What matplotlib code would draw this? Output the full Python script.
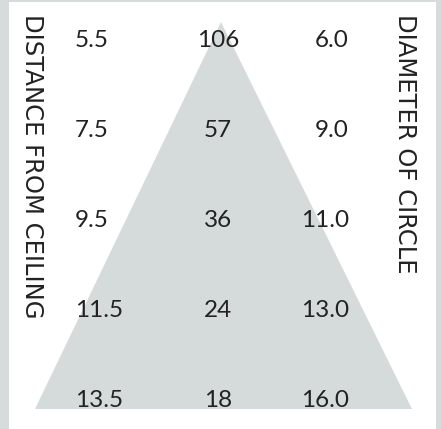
import matplotlib
matplotlib.use("Agg")
import matplotlib.pyplot as plt
from matplotlib.patches import Polygon, Rectangle

# table values, one row per distance step
distance = ["5.5", "7.5", "9.5", "11.5", "13.5"]
count = ["106", "57", "36", "24", "18"]
diameter = ["6.0", "9.0", "11.0", "13.0", "16.0"]
left_label = "DISTANCE FROM CEILING"
right_label = "DIAMETER OF CIRCLE"

frame_col = "#d6dcdc"
tri_col = "#d5dbdb"
text_col = "#222222"

plt.rcParams['font.family'] = ['Lato', 'DejaVu Sans']

fig = plt.figure(figsize=(4.41, 4.29), dpi=100, facecolor=frame_col)
ax = fig.add_axes([0, 0, 1, 1])
ax.set_xlim(0, 441)
ax.set_ylim(429, 0)
ax.axis("off")

# white panel inside the grey frame
ax.add_patch(Rectangle((9, 2), 427, 430, facecolor="white", edgecolor="none"))
# the triangle behind the numbers
ax.add_patch(Polygon([(221, 22), (35, 409), (412, 409)], closed=True,
                     facecolor=tri_col, edgecolor="none"))

for i in range(len(distance)):
    y = 47 + 90 * i
    ax.text(75, y, distance[i], ha="left", va="baseline", fontsize=17.5, color=text_col)
    ax.text(218, y, count[i], ha="center", va="baseline", fontsize=17.5, color=text_col)
    ax.text(349, y, diameter[i], ha="right", va="baseline", fontsize=17.5, color=text_col)

ax.text(31.5, 14, left_label, rotation=-90, ha="center", va="top",
        fontsize=17.5, color=text_col, family="DejaVu Sans")
ax.text(405.5, 14, right_label, rotation=-90, ha="center", va="top",
        fontsize=17.5, color=text_col, family="DejaVu Sans")

fig.savefig("out.png", dpi=100, facecolor=frame_col)
